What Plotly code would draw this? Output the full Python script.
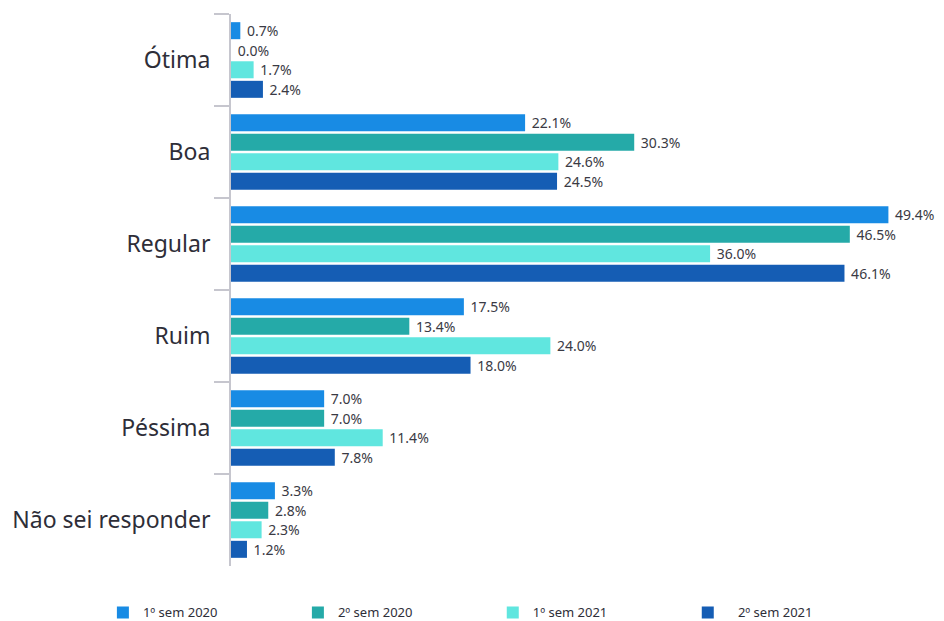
import plotly.graph_objects as go

categories = ["Ótima", "Boa", "Regular", "Ruim", "Péssima", "Não sei responder"]
series_names = ["1º sem 2020", "2º sem 2020", "1º sem 2021", "   2º sem 2021"]
s1_2020 = [0.7, 22.1, 49.4, 17.5, 7.0, 3.3]
s2_2020 = [0.0, 30.3, 46.5, 13.4, 7.0, 2.8]
s1_2021 = [1.7, 24.6, 36.0, 24.0, 11.4, 2.3]
s2_2021 = [2.4, 24.5, 46.1, 18.0, 7.8, 1.2]
colors = ["#188be4", "#25aaa8", "#60e6df", "#155db4"]
legend_refs = ["legend", "legend", "legend2", "legend2"]

fig = go.Figure()
for name, vals, col, lg in zip(series_names, [s1_2020, s2_2020, s1_2021, s2_2021], colors, legend_refs):
    fig.add_trace(go.Bar(
        y=categories, x=vals, name=name, orientation="h",
        marker=dict(color=col, line=dict(width=0)),
        texttemplate="\u00a0%{x:.1f}%", textposition="outside",
        textfont=dict(size=14, color="#3a3a44"),
        constraintext="none",
        cliponaxis=False,
        legend=lg,
    ))

legend_style = dict(orientation="h", xref="container", xanchor="left",
                    y=-0.057, yanchor="top", font=dict(size=13, color="#2e2e38"),
                    entrywidth=150, traceorder="normal", bgcolor="rgba(0,0,0,0)")

fig.update_layout(
    width=944, height=621,
    margin=dict(l=231, r=21, t=14, b=55, autoexpand=False),
    paper_bgcolor="white", plot_bgcolor="white",
    font=dict(family="Noto Sans", color="#2e2e38"),
    barmode="group", bargap=0.15, bargroupgap=0.13,
    showlegend=True,
    legend=dict(x=0.109, **legend_style),
    legend2=dict(x=0.522, **legend_style),
    xaxis=dict(range=[0, 52], visible=False, showgrid=False, zeroline=False),
    yaxis=dict(autorange="reversed", showline=True, linecolor="#c6c6ce", linewidth=2,
               ticks="outside", tickson="boundaries", ticklen=15, tickcolor="#c6c6ce",
               tickwidth=2, tickfont=dict(size=23, color="#2e2e38"), showgrid=False,
               automargin=False, ticklabelstandoff=14),
)
fig.write_html("out.html", config={"displayModeBar": False},
               post_script="document.body.style.margin='0';")
